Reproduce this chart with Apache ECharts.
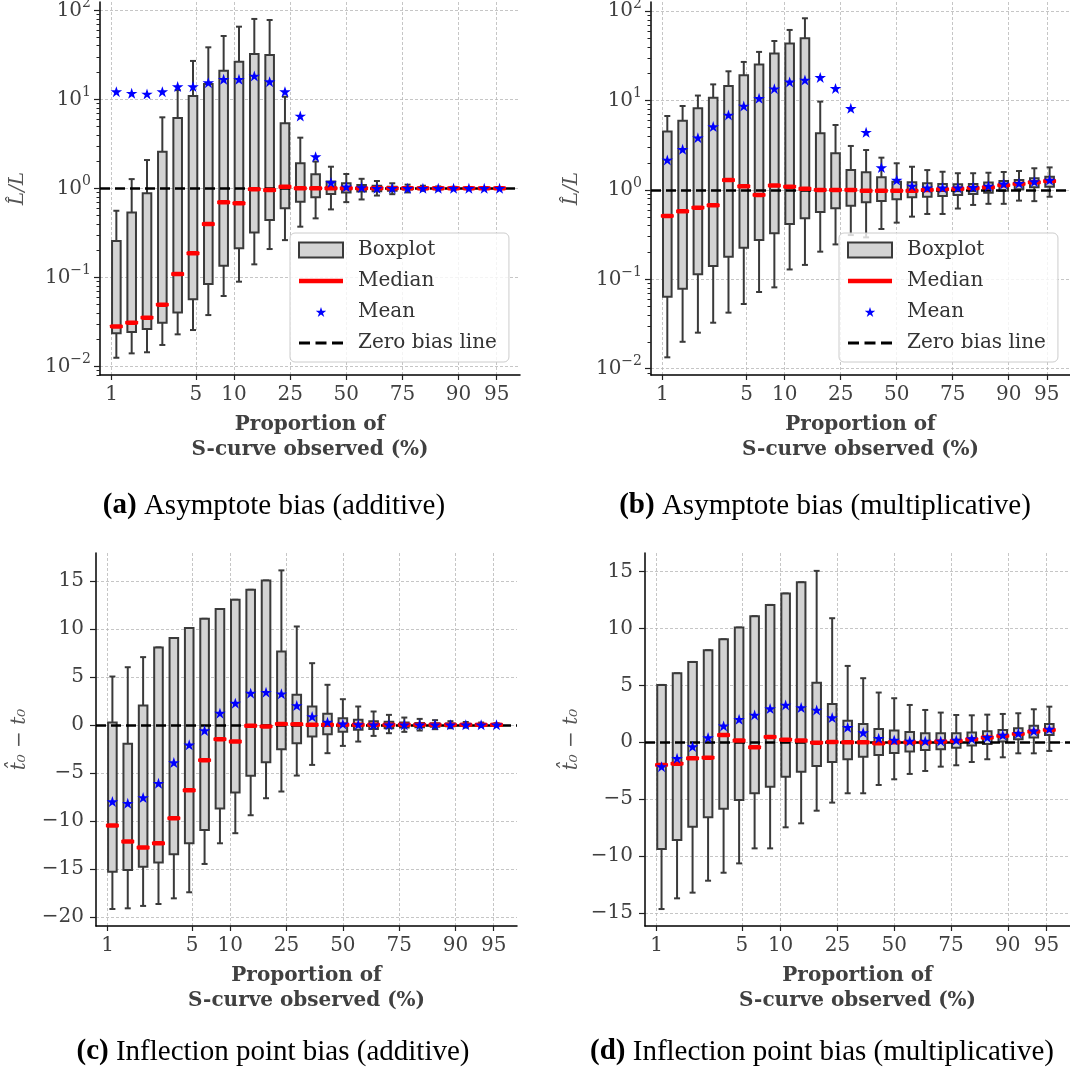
<!DOCTYPE html>
<html>
<head>
<meta charset="utf-8">
<title>S-curve bias boxplots</title>
<script src="https://cdn.jsdelivr.net/npm/echarts@6/dist/echarts.min.js"></script>
<style>
  html, body { margin: 0; padding: 0; background: #fff; }
  #chart { width: 1070px; height: 1068px; }
</style>
</head>
<body>
<div id="chart"></div>
<script>
'use strict';

// box positions on the logit axis (step 0.3, 50% at 0)
var boxLogit = [-4.5, -4.2, -3.9, -3.6, -3.3, -3.0, -2.7, -2.4, -2.1, -1.8, -1.5, -1.2, -0.9,
  -0.6, -0.3, 0, 0.3, 0.6, 0.9, 1.2, 1.5, 1.8, 2.1, 2.4, 2.7, 3.0];
var tickPercent = [1, 5, 10, 25, 50, 75, 90, 95];
var logTicks = [0.01, 0.1, 1, 10, 100];
var logMinorTicks = [0.008, 0.009, 0.02, 0.03, 0.04, 0.05, 0.06, 0.07, 0.08, 0.09,
  0.2, 0.3, 0.4, 0.5, 0.6, 0.7, 0.8, 0.9, 2, 3, 4, 5, 6, 7, 8, 9,
  20, 30, 40, 50, 60, 70, 80, 90];
var cTicks = [-20, -15, -10, -5, 0, 5, 10, 15];
var dTicks = [-15, -10, -5, 0, 5, 10, 15];

// (a) asymptote bias, additive
var aLow = [0.0125, 0.014, 0.0144, 0.0174, 0.0229, 0.0256, 0.0377, 0.0617, 0.0894, 0.14, 0.208, 0.262, 0.371,
  0.46, 0.58, 0.70, 0.75, 0.83, 0.86, 0.90, 0.94, 0.95, 0.96, 0.97, 0.975, 0.98];
var aQ1 = [0.0235, 0.0243, 0.0263, 0.031, 0.0404, 0.0566, 0.0841, 0.135, 0.212, 0.32, 0.441, 0.596, 0.708,
  0.792, 0.863, 0.90, 0.92, 0.93, 0.94, 0.97, 0.98, 0.98, 0.99, 0.99, 0.99, 0.99];
var aMed = [0.0281, 0.031, 0.0352, 0.0493, 0.109, 0.186, 0.397, 0.697, 0.678, 0.98, 0.958, 1.04, 1.0,
  1.0, 1.0, 1.0, 1.0, 1.0, 1.0, 1.0, 1.0, 1.0, 1.0, 1.0, 1.0, 1.0];
var aQ3 = [0.256, 0.537, 0.879, 2.58, 6.17, 10.9, 14.9, 21.0, 26.5, 32.3, 31.5, 5.37, 1.91,
  1.44, 1.19, 1.14, 1.09, 1.07, 1.04, 1.03, 1.02, 1.02, 1.01, 1.01, 1.01, 1.01];
var aHigh = [0.56, 1.27, 2.08, 6.28, 12.7, 27.0, 38.4, 51.5, 65.5, 80, 77.8, 10.7, 3.71,
  2.0, 1.75, 1.45, 1.28, 1.21, 1.14, 1.10, 1.07, 1.05, 1.04, 1.03, 1.025, 1.02];
var aMean = [12.2, 11.7, 11.5, 12.2, 13.9, 13.9, 15.4, 16.8, 16.8, 18.3, 15.8, 12.2, 6.5,
  2.27, 1.16, 1.04, 1.02, 1.0, 1.0, 1.0, 1.0, 1.0, 1.0, 1.0, 1.0, 1.0];

// (b) asymptote bias, multiplicative
var bLow = [0.0134, 0.02, 0.0253, 0.0327, 0.0424, 0.053, 0.0722, 0.0813, 0.129, 0.145, 0.204, 0.246, 0.313,
  0.295, 0.366, 0.431, 0.503, 0.539, 0.539, 0.62, 0.68, 0.70, 0.70, 0.76, 0.75, 0.84];
var bQ1 = [0.064, 0.0787, 0.114, 0.141, 0.179, 0.226, 0.276, 0.327, 0.416, 0.482, 0.567, 0.624, 0.668,
  0.728, 0.753, 0.79, 0.828, 0.842, 0.856, 0.88, 0.90, 0.93, 0.98, 1.02, 1.07, 1.09];
var bMed = [0.512, 0.577, 0.634, 0.673, 1.29, 1.1, 0.879, 1.12, 1.09, 1.03, 1.0, 1.0, 1.0,
  0.98, 0.98, 0.98, 0.98, 1.0, 1.02, 1.03, 1.05, 1.07, 1.13, 1.17, 1.22, 1.26];
var bQ3 = [4.5, 5.97, 8.2, 10.8, 14.6, 19.2, 25.3, 33.6, 43.5, 49.9, 4.31, 2.57, 1.67,
  1.58, 1.39, 1.24, 1.22, 1.19, 1.17, 1.16, 1.17, 1.21, 1.26, 1.29, 1.35, 1.41];
var bHigh = [6.73, 8.71, 11.4, 15.2, 21.3, 27.1, 35.1, 46.5, 61.8, 83.5, 9.75, 5.34, 3.11,
  2.80, 2.30, 1.99, 1.82, 1.67, 1.60, 1.54, 1.54, 1.56, 1.59, 1.63, 1.75, 1.79];
var bMean = [2.17, 2.85, 3.85, 5.12, 6.91, 8.71, 10.6, 13.6, 16.2, 17.0, 18.2, 13.7, 8.2,
  4.42, 1.78, 1.29, 1.11, 1.06, 1.06, 1.06, 1.07, 1.11, 1.17, 1.19, 1.24, 1.29];

// (c) inflection point bias, additive
var cLow = [-19.17, -19.1, -18.85, -18.65, -18.06, -17.43, -14.48, -12.33, -11.28, -9.41, -7.64, -6.94, -5.28,
  -4.17, -2.95, -2.19, -1.74, -1.15, -0.87, -0.73, -0.59, -0.45, -0.35, -0.28, -0.2, -0.14];
var cQ1 = [-15.28, -15.10, -14.76, -14.34, -13.47, -12.33, -10.94, -8.72, -7.05, -5.31, -3.89, -2.53, -1.91,
  -1.22, -0.97, -0.73, -0.52, -0.42, -0.35, -0.28, -0.24, -0.2, -0.14, -0.1, -0.07, -0.05];
var cMed = [-10.49, -12.15, -12.78, -12.33, -9.72, -6.81, -3.68, -1.49, -1.74, -0.1, -0.17, 0.1, 0.07,
  0, 0, 0, 0, 0, 0, 0, 0, 0, 0, 0, 0, 0];
var cQ3 = [0.24, -1.98, 2.01, 8.06, 9.03, 10.07, 11.04, 12.05, 13.02, 14.06, 15.03, 7.64, 3.13,
  1.91, 1.15, 0.69, 0.52, 0.38, 0.31, 0.24, 0.2, 0.17, 0.14, 0.1, 0.07, 0.05];
var cHigh = [5.03, 6.0, 7.05, 8.06, 9.03, 10.07, 11.04, 12.05, 13.02, 14.06, 15.03, 16.08, 10.24,
  6.42, 4.17, 2.67, 1.91, 1.39, 1.04, 0.76, 0.62, 0.49, 0.38, 0.3, 0.24, 0.17];
var cMean = [-7.99, -8.16, -7.57, -6.08, -3.92, -2.08, -0.59, 1.22, 2.26, 3.30, 3.40, 3.23, 2.01,
  0.87, 0.28, 0.1, 0.03, 0, 0, 0, 0, 0, 0, 0, 0, 0];

// (d) inflection point bias, multiplicative
var dLow = [-14.65, -13.71, -13.21, -12.16, -11.46, -10.64, -9.32, -9.32, -7.47, -7.12, -6.01, -5.30, -4.48,
  -4.48, -3.75, -3.25, -2.78, -2.52, -2.14, -2.02, -1.73, -1.49, -1.32, -0.97, -0.97, -0.76];
var dQ1 = [-9.38, -8.58, -7.41, -6.59, -5.83, -5.07, -4.48, -3.90, -3.02, -2.58, -2.08, -1.73, -1.49,
  -1.26, -1.11, -0.94, -0.82, -0.67, -0.62, -0.47, -0.29, -0.15, 0.06, 0.26, 0.41, 0.64];
var dMed = [-1.99, -1.88, -1.41, -1.35, 0.64, 0.15, -0.44, 0.47, 0.23, 0.15, -0.03, 0.03, 0,
  0, -0.09, 0, 0, 0, 0.06, 0.12, 0.26, 0.41, 0.56, 0.73, 0.94, 1.08];
var dQ3 = [5.04, 6.06, 7.06, 8.09, 9.05, 10.08, 11.08, 12.07, 13.07, 14.06, 5.22, 3.37, 1.90,
  1.61, 1.17, 1.03, 0.91, 0.79, 0.79, 0.79, 0.85, 0.97, 1.08, 1.23, 1.46, 1.61];
var dHigh = [5.04, 6.06, 7.06, 8.09, 9.05, 10.08, 11.08, 12.07, 13.07, 14.06, 15.06, 10.9, 6.71,
  5.63, 4.37, 3.87, 3.28, 2.84, 2.61, 2.40, 2.37, 2.43, 2.49, 2.55, 2.90, 3.13];
var dMean = [-2.14, -1.41, -0.38, 0.41, 1.44, 2.02, 2.40, 2.96, 3.28, 3.05, 2.84, 2.17, 1.32,
  0.85, 0.35, 0.2, 0.12, 0.12, 0.12, 0.2, 0.32, 0.44, 0.64, 0.79, 1.0, 1.17];

var FONT = 'DejaVu Serif';
var TXT = '#404040';
var X_MIN = -4.82, X_MAX = 3.4;
var starPath = 'path://M50,0L61.17,34.63L97.55,34.55L68.07,55.87L79.39,90.45L50,69L20.61,90.45L31.93,55.87L2.45,34.55L38.83,34.63Z';
var starIcon = 'path://M0,0L0.01,0Z M198,22L209.17,56.63L245.55,56.55L216.07,77.87L227.39,112.45L198,91L168.61,112.45L179.93,77.87L150.45,56.55L186.83,56.63Z M396,135L395.99,135Z';
var medianIcon = 'path://M0,0L0.01,0Z M0,5.25L44,5.25L44,9.75L0,9.75Z M44,15L43.99,15Z';
var dashIcon = 'path://M0,0L0.01,0Z M0,6L11,6L11,9L0,9Z M16.5,6L27.5,6L27.5,9L16.5,9Z M33,6L44,6L44,9L33,9Z M44,15L43.99,15Z';

function logit(p) {
  return Math.log(p / (100 - p));
}
var tickLogit = tickPercent.map(logit);

function minus(v) {
  return v < 0 ? '\u2212' + (-v) : String(v);
}

function renderBox(params, api) {
  var x = api.value(0);
  var pLow = api.coord([x, api.value(1)]);
  var pQ1 = api.coord([x, api.value(2)]);
  var pQ3 = api.coord([x, api.value(4)]);
  var pHigh = api.coord([x, api.value(5)]);
  var cx = pQ1[0], hw = 4.3, cw = 3;
  var stroke = {stroke: '#3a3a3a', lineWidth: 2};
  return {
    type: 'group',
    children: [
      {type: 'line', shape: {x1: cx, y1: pLow[1], x2: cx, y2: pQ1[1]}, style: stroke},
      {type: 'line', shape: {x1: cx, y1: pQ3[1], x2: cx, y2: pHigh[1]}, style: stroke},
      {type: 'line', shape: {x1: cx - cw, y1: pLow[1], x2: cx + cw, y2: pLow[1]}, style: stroke},
      {type: 'line', shape: {x1: cx - cw, y1: pHigh[1], x2: cx + cw, y2: pHigh[1]}, style: stroke},
      {type: 'rect', shape: {x: cx - hw, y: pQ3[1], width: 2 * hw, height: pQ1[1] - pQ3[1]},
        style: {fill: '#d3d3d3', stroke: '#3a3a3a', lineWidth: 2}}
    ]
  };
}

function panelSeries(xi, yi, zero, low, q1, med, q3, high, mean) {
  var dash = {color: '#000', width: 2.6, type: [10, 5]};
  return [{
    name: 'Boxplot', type: 'custom', xAxisIndex: xi, yAxisIndex: yi,
    renderItem: renderBox, clip: true, silent: true, z: 2,
    itemStyle: {color: '#d3d3d3'},
    encode: {x: 0, y: [1, 2, 3, 4, 5]},
    data: boxLogit.map(function(x, i) { return [x, low[i], q1[i], med[i], q3[i], high[i]]; })
  }, {
    name: 'Zero bias line', type: 'line', xAxisIndex: xi, yAxisIndex: yi,
    data: [], symbol: 'none', z: 3,
    itemStyle: {color: '#000'}, lineStyle: dash,
    markLine: {
      silent: true, symbol: 'none', z: 3, animation: false,
      label: {show: false}, lineStyle: dash,
      data: [{yAxis: zero}]
    }
  }, {
    name: 'Median', type: 'scatter', xAxisIndex: xi, yAxisIndex: yi, z: 4, silent: true,
    symbol: 'roundRect', symbolSize: [13, 4.5],
    itemStyle: {color: '#ff0000', opacity: 1},
    data: boxLogit.map(function(x, i) { return [x, med[i]]; })
  }, {
    name: 'Mean', type: 'scatter', xAxisIndex: xi, yAxisIndex: yi, z: 5, silent: true,
    symbol: starPath, symbolSize: [11.5, 11],
    itemStyle: {color: '#0000ff', opacity: 1},
    data: boxLogit.map(function(x, i) { return [x, mean[i]]; })
  }];
}

function makeXAxis(g) {
  return {
    type: 'value', gridIndex: g, min: X_MIN, max: X_MAX,
    name: 'Proportion of\nS-curve observed (%)', nameLocation: 'middle', nameGap: 37,
    nameMoveOverlap: false,
    nameTextStyle: {fontFamily: FONT, fontWeight: 'bold', fontSize: 20, color: TXT, lineHeight: 25},
    axisLine: {onZero: false, lineStyle: {color: '#000', width: 1.5}},
    axisTick: {length: 5, customValues: tickLogit, lineStyle: {color: '#222', width: 1.2}},
    axisLabel: {
      customValues: tickLogit, margin: 10, fontFamily: FONT, fontSize: 20, color: TXT,
      formatter: function(v) { return String(Math.round(100 / (1 + Math.exp(-v)))); }
    },
    splitLine: {show: true, lineStyle: {color: '#b8b8b8', width: 0.8, type: [3, 2]}}
  };
}

function logYAxis(g, min, max, gap) {
  return {
    type: 'log', logBase: 10, gridIndex: g, min: min, max: max, position: 'left',
    name: 'L\u0302/L', nameLocation: 'middle', nameGap: gap, nameMoveOverlap: false,
    nameTextStyle: {fontFamily: FONT, fontStyle: 'italic', fontSize: 20, color: '#555'},
    axisLine: {show: true, onZero: false, lineStyle: {color: '#000', width: 1.5}},
    axisTick: {length: 6, customValues: logTicks, lineStyle: {color: '#222', width: 1.2}},
    axisLabel: {
      customValues: logTicks, margin: 9,
      formatter: function(v) {
        var e = Math.round(Math.log(v) / Math.LN10);
        return '{b|10}{s|' + minus(e) + '}';
      },
      rich: {
        b: {fontFamily: FONT, fontSize: 20, color: TXT, lineHeight: 28},
        s: {fontFamily: FONT, fontSize: 14, color: TXT, lineHeight: 16, verticalAlign: 'top'}
      }
    },
    splitLine: {show: true, lineStyle: {color: '#b8b8b8', width: 0.8, type: [3, 2]}}
  };
}

function minorYAxis(g, min, max) {
  return {
    type: 'log', logBase: 10, gridIndex: g, min: min, max: max, position: 'left', offset: 0,
    axisLine: {show: false, onZero: false},
    axisTick: {show: true, length: 3.5, customValues: logMinorTicks, lineStyle: {color: '#222', width: 1}},
    axisLabel: {show: false},
    splitLine: {show: false}
  };
}

function linYAxis(g, min, max, ticks, gap) {
  return {
    type: 'value', gridIndex: g, min: min, max: max, position: 'left',
    name: 't\u0302\u2080 \u2212 t\u2080', nameLocation: 'middle', nameGap: gap, nameMoveOverlap: false,
    nameTextStyle: {fontFamily: FONT, fontStyle: 'italic', fontSize: 20, color: '#555'},
    axisLine: {show: true, onZero: false, lineStyle: {color: '#000', width: 1.5}},
    axisTick: {length: 6, customValues: ticks, lineStyle: {color: '#222', width: 1.2}},
    axisLabel: {
      customValues: ticks, margin: 12, fontFamily: FONT, fontSize: 20, color: TXT,
      formatter: function(v) { return minus(v); }
    },
    splitLine: {show: true, lineStyle: {color: '#b8b8b8', width: 0.8, type: [3, 2]}}
  };
}

function makeLegend(left) {
  return {
    orient: 'vertical', left: left, top: 233,
    padding: [7, 12, 9, 8], itemWidth: 44, itemHeight: 15, itemGap: 11,
    backgroundColor: 'rgba(255,255,255,0.8)', borderColor: '#cccccc', borderWidth: 1, borderRadius: 5,
    selectedMode: false,
    textStyle: {fontFamily: FONT, fontSize: 20, color: '#333', padding: [0, 0, 0, 10]},
    data: [
      {name: 'Boxplot', icon: 'rect', itemStyle: {color: '#d3d3d3', borderColor: '#3a3a3a', borderWidth: 2}},
      {name: 'Median', icon: medianIcon, itemStyle: {color: '#ff0000', opacity: 1}},
      {name: 'Mean', icon: starIcon, itemStyle: {color: '#0000ff', opacity: 1}},
      {name: 'Zero bias line', icon: dashIcon, itemStyle: {color: '#000'}}
    ]
  };
}

function caption(letter, text, x, top) {
  return {
    text: '{b|(' + letter + ')} ' + text, left: x, top: top, textAlign: 'center',
    textStyle: {
      fontFamily: 'Liberation Serif', fontWeight: 'normal', fontSize: 29, color: '#000', lineHeight: 30,
      rich: {b: {fontFamily: 'Liberation Serif', fontWeight: 'bold', fontSize: 29, color: '#000', lineHeight: 30}}
    }
  };
}

var chart = echarts.init(document.getElementById('chart'), null, {renderer: 'canvas'});

var option = {
  animation: false,
  backgroundColor: '#fff',
  textStyle: {fontFamily: FONT},
  title: [
    caption('a', 'Asymptote bias (additive)', 269, 486),
    caption('b', 'Asymptote bias (multiplicative)', 820, 486),
    caption('c', 'Inflection point bias (additive)', 268, 1032),
    caption('d', 'Inflection point bias (multiplicative)', 817, 1032)
  ],
  legend: [makeLegend(290), makeLegend(839)],
  grid: [
    {left: 100, top: 2, width: 420, height: 373, outerBoundsMode: 'none'},
    {left: 651, top: 2, width: 419, height: 373, outerBoundsMode: 'none'},
    {left: 96, top: 553, width: 421, height: 373, outerBoundsMode: 'none'},
    {left: 645, top: 553, width: 425, height: 373, outerBoundsMode: 'none'}
  ],
  xAxis: [makeXAxis(0), makeXAxis(1), makeXAxis(2), makeXAxis(3)],
  yAxis: [
    logYAxis(0, 0.008, 124, 72),
    minorYAxis(0, 0.008, 124),
    logYAxis(1, 0.0085, 127, 69),
    minorYAxis(1, 0.0085, 127),
    linYAxis(2, -20.94, 17.89, cTicks, 66),
    linYAxis(3, -16.14, 16.63, dTicks, 63)
  ],
  series: [].concat(
    panelSeries(0, 0, 1, aLow, aQ1, aMed, aQ3, aHigh, aMean),
    panelSeries(1, 2, 1, bLow, bQ1, bMed, bQ3, bHigh, bMean),
    panelSeries(2, 4, 0, cLow, cQ1, cMed, cQ3, cHigh, cMean),
    panelSeries(3, 5, 0, dLow, dQ1, dMed, dQ3, dHigh, dMean)
  )
};

chart.setOption(option);
</script>
</body>
</html>
